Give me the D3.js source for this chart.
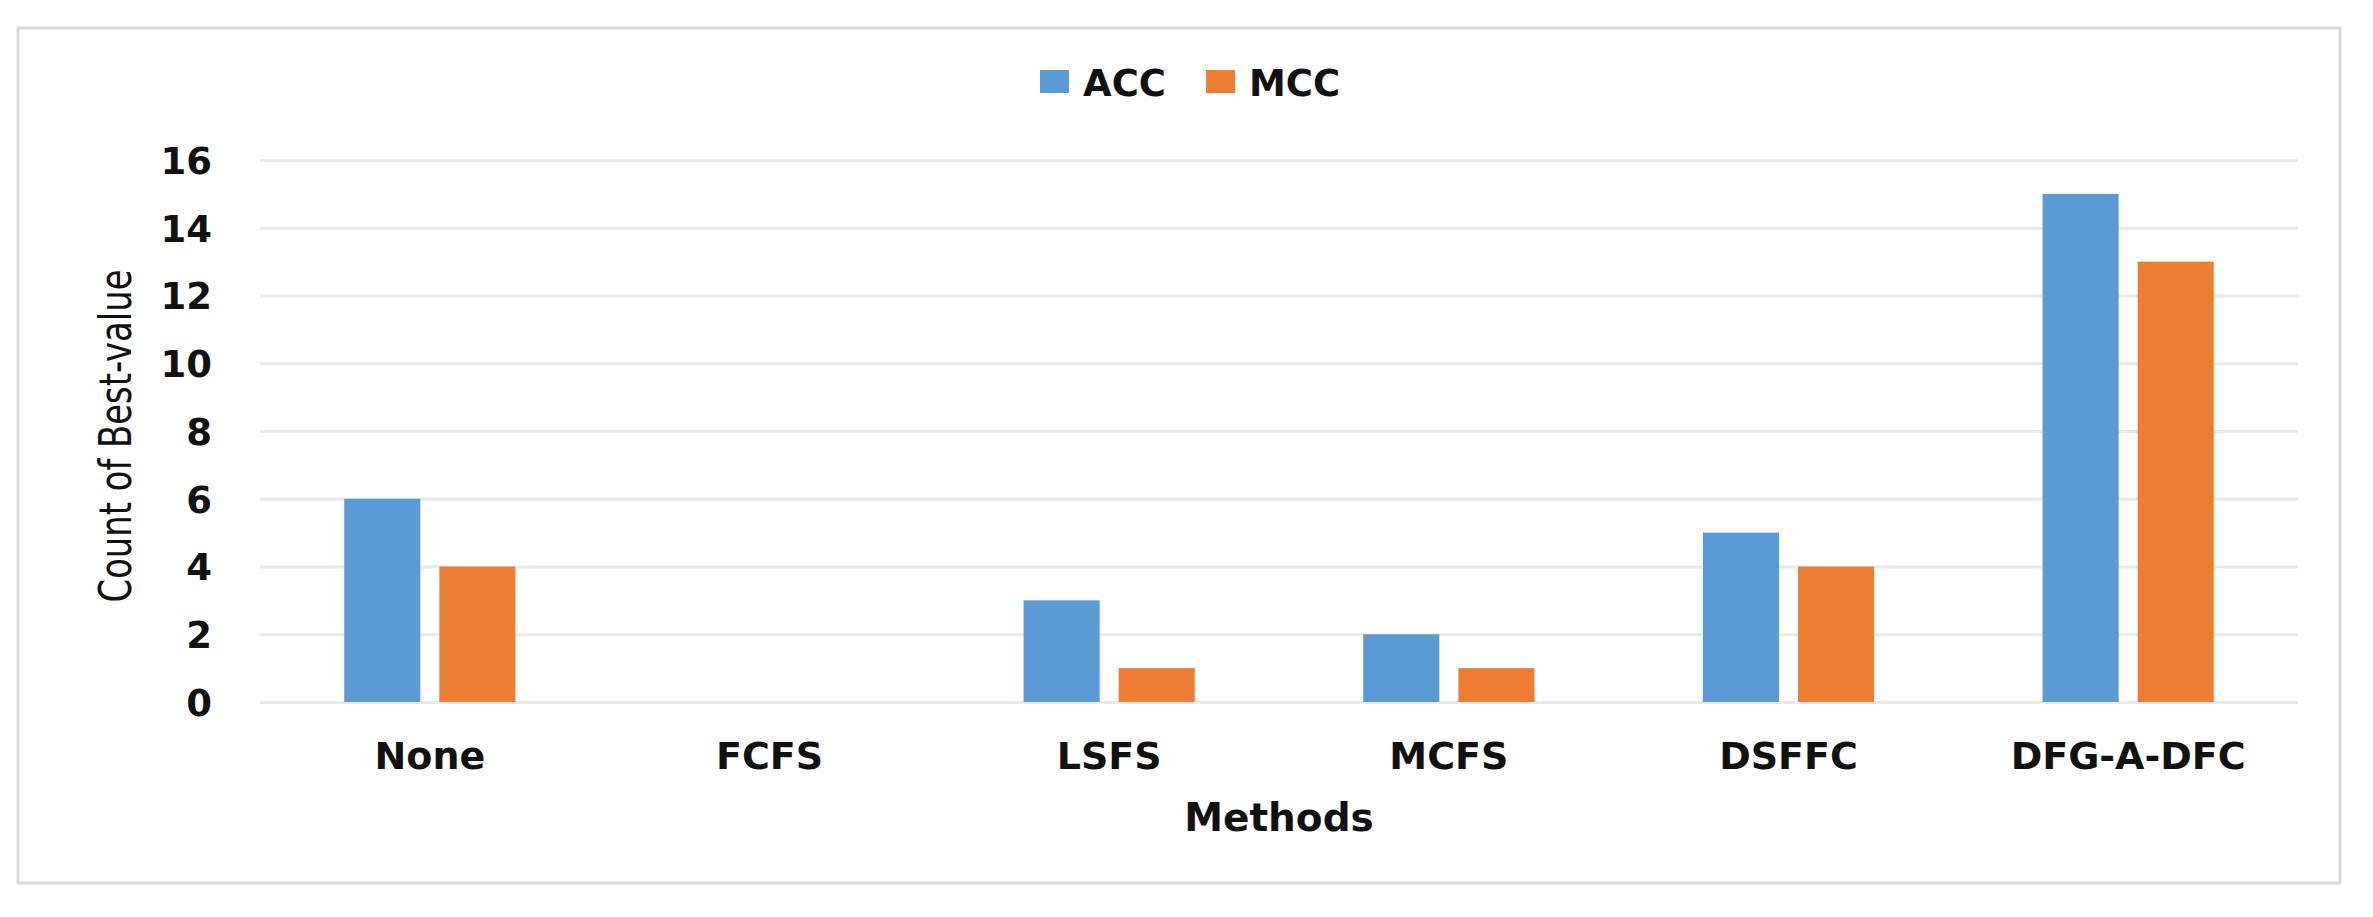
<!DOCTYPE html>
<html>
<head>
<meta charset="utf-8">
<script src="https://cdn.jsdelivr.net/npm/d3@7"></script>
<style>
  html, body { margin: 0; padding: 0; background: #fff; }
  svg { display: block; }
</style>
</head>
<body>
<svg id="chart" width="2373" height="917"></svg>
<script>
const categories = ["None", "FCFS", "LSFS", "MCFS", "DSFFC", "DFG-A-DFC"];
const seriesNames = ["ACC", "MCC"];
const accValues = [6, 0, 3, 2, 5, 15];
const mccValues = [4, 0, 1, 1, 4, 13];
const yTicks = [0, 2, 4, 6, 8, 10, 12, 14, 16];
const colors = ["#5B9BD5", "#ED7D31"];

const W = 2373, H = 917;
const plot = { left: 260, right: 2298, top: 160, bottom: 702 };
const svg = d3.select("#chart");

svg.append("rect").attr("x", 0).attr("y", 0).attr("width", W).attr("height", H).attr("fill", "#fff");
// outer border
svg.append("rect")
  .attr("x", 18).attr("y", 28).attr("width", 2322).attr("height", 855)
  .attr("fill", "#fff").attr("stroke", "#d9d9d9").attr("stroke-width", 3);

const x0 = d3.scaleBand().domain(categories).range([plot.left, plot.right]).paddingInner(0).paddingOuter(0);
const y = d3.scaleLinear().domain([0, 16]).range([plot.bottom, plot.top]);

const bw = x0.bandwidth();
const barW = bw * 0.224;
const gap = bw * 0.056;

// gridlines
const yAxis = d3.axisLeft(y).tickValues(yTicks).tickSize(-(plot.right - plot.left)).tickPadding(48).tickFormat(d3.format("d"));
const gy = svg.append("g").attr("transform", `translate(${plot.left},0)`).call(yAxis);
gy.select(".domain").remove();
gy.selectAll(".tick line").attr("stroke", "#e9e9e9").attr("stroke-width", 3);
gy.selectAll(".tick text")
  .attr("font-family", "'DejaVu Sans', sans-serif").attr("font-weight", "bold")
  .attr("font-size", 37).attr("fill", "#111").attr("dy", "0.36em");

// bars
const data = categories.map((c, i) => ({ cat: c, vals: [accValues[i], mccValues[i]] }));
const groups = svg.append("g").selectAll("g").data(data).join("g")
  .attr("transform", d => `translate(${x0(d.cat) + bw / 2},0)`);
groups.selectAll("rect").data(d => d.vals.map((v, k) => ({ v, k }))).join("rect")
  .attr("x", d => d.k === 0 ? -gap / 2 - barW : gap / 2)
  .attr("width", barW)
  .attr("y", d => y(d.v))
  .attr("height", d => y(0) - y(d.v))
  .attr("fill", d => colors[d.k]);

// x axis labels
const xAxis = d3.axisBottom(x0).tickSize(0).tickPadding(40);
const gx = svg.append("g").attr("transform", `translate(0,${plot.bottom})`).call(xAxis);
gx.select(".domain").remove();
gx.selectAll(".tick text")
  .attr("font-family", "'DejaVu Sans', sans-serif").attr("font-weight", "bold")
  .attr("font-size", 38).attr("fill", "#111");

// x axis title
svg.append("text").attr("x", (plot.left + plot.right) / 2).attr("y", 831)
  .attr("text-anchor", "middle")
  .attr("font-family", "'DejaVu Sans', sans-serif").attr("font-weight", "bold")
  .attr("font-size", 39).attr("fill", "#111").text("Methods");

// y axis title
svg.append("text")
  .attr("transform", "translate(131,436) rotate(-90)")
  .attr("text-anchor", "middle")
  .attr("font-family", "'DejaVu Sans Condensed', 'DejaVu Sans', sans-serif")
  .attr("font-size", 44).attr("fill", "#111")
  .attr("textLength", 333).attr("lengthAdjust", "spacingAndGlyphs")
  .text("Count of Best-value");

// legend
const legendX = [1040, 1206];
const lg = svg.append("g");
seriesNames.forEach((name, i) => {
  lg.append("rect").attr("x", legendX[i]).attr("y", 70).attr("width", 29).attr("height", 23).attr("fill", colors[i]);
  lg.append("text").attr("x", legendX[i] + 43).attr("y", 96)
    .attr("font-family", "'DejaVu Sans', sans-serif").attr("font-weight", "bold")
    .attr("font-size", 37).attr("fill", "#111").text(name);
});
</script>
</body>
</html>
